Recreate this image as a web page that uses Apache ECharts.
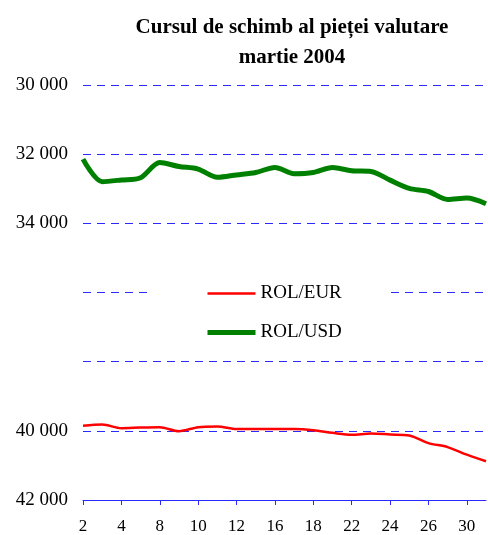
<!DOCTYPE html>
<html>
<head>
<meta charset="utf-8">
<script src="https://cdn.jsdelivr.net/npm/echarts@6/dist/echarts.min.js"></script>
<style>
  html, body { margin: 0; padding: 0; background: #fff; }
  #chart { width: 488px; height: 535px; }
</style>
</head>
<body>
<div id="chart"></div>
<script>
// trading days, March 2004
const days = ['2','3','4','5','8','9','10','11','12','15','16','17','18','19','22','23','24','25','26','29','30','31'];
const rolEur = [39856, 39819, 39923, 39905, 39895, 40010, 39895, 39875, 39950, 39950, 39950, 39950,
                39980, 40057, 40115, 40077, 40105, 40135, 40355, 40470, 40690, 40880];
const rolUsd = [32143, 32795, 32746, 32680, 32240, 32356, 32430, 32670, 32600, 32530, 32385, 32565,
                32530, 32385, 32480, 32500, 32750, 32990, 33080, 33310, 33270, 33435];
const hiddenTicks = [36000, 38000];

const serif = "'Liberation Serif', 'Times New Roman', serif";
const blue = '#2a2aff';

const chart = echarts.init(document.getElementById('chart'));
chart.setOption({
  backgroundColor: '#fff',
  animation: false,
  title: {
    text: 'Cursul de schimb al pieței valutare\nmartie 2004',
    left: 287,
    textAlign: 'center',
    top: 8,
    textStyle: { fontFamily: serif, fontSize: 21, fontWeight: 'bold', color: '#000', lineHeight: 30 }
  },
  legend: {
    orient: 'vertical',
    left: 153,
    top: 280,
    padding: [4, 48, 4, 52],
    backgroundColor: '#fff',
    itemWidth: 48,
    itemHeight: 14,
    itemGap: 20,
    itemStyle: { opacity: 0 },
    textStyle: { fontFamily: serif, fontSize: 19, color: '#000' },
    data: [
      { name: 'ROL/EUR', lineStyle: { color: '#ff0000', width: 2.5 } },
      { name: 'ROL/USD', lineStyle: { color: '#008000', width: 5 } }
    ]
  },
  grid: { left: 83, right: 2, top: 85, bottom: 34, containLabel: false },
  xAxis: {
    type: 'category',
    data: days,
    boundaryGap: false,
    axisLine: { lineStyle: { color: blue, width: 1 } },
    axisTick: { interval: 1, length: 5, lineStyle: { color: blue } },
    axisLabel: { interval: 1, fontFamily: serif, fontSize: 17, color: '#000', margin: 18 },
    splitLine: { show: false }
  },
  yAxis: {
    type: 'value',
    inverse: true,
    min: 30000,
    max: 42000,
    interval: 2000,
    axisLine: { show: false },
    axisTick: { show: false },
    axisLabel: {
      fontFamily: serif, fontSize: 19, color: '#000', margin: 15,
      formatter: v => hiddenTicks.includes(v) ? '' : String(v).replace(/\B(?=(\d{3})+(?!\d))/g, ' ')
    },
    splitLine: { lineStyle: { color: blue, type: [8, 6], width: 1 } }
  },
  series: [
    {
      name: 'ROL/EUR',
      type: 'line',
      data: rolEur,
      smooth: 0.3,
      symbol: 'none',
      lineStyle: { color: '#ff0000', width: 2.5 },
      itemStyle: { color: '#ff0000' }
    },
    {
      name: 'ROL/USD',
      type: 'line',
      data: rolUsd,
      smooth: 0.3,
      symbol: 'none',
      lineStyle: { color: '#008000', width: 5 },
      itemStyle: { color: '#008000' }
    }
  ]
});
</script>
</body>
</html>
